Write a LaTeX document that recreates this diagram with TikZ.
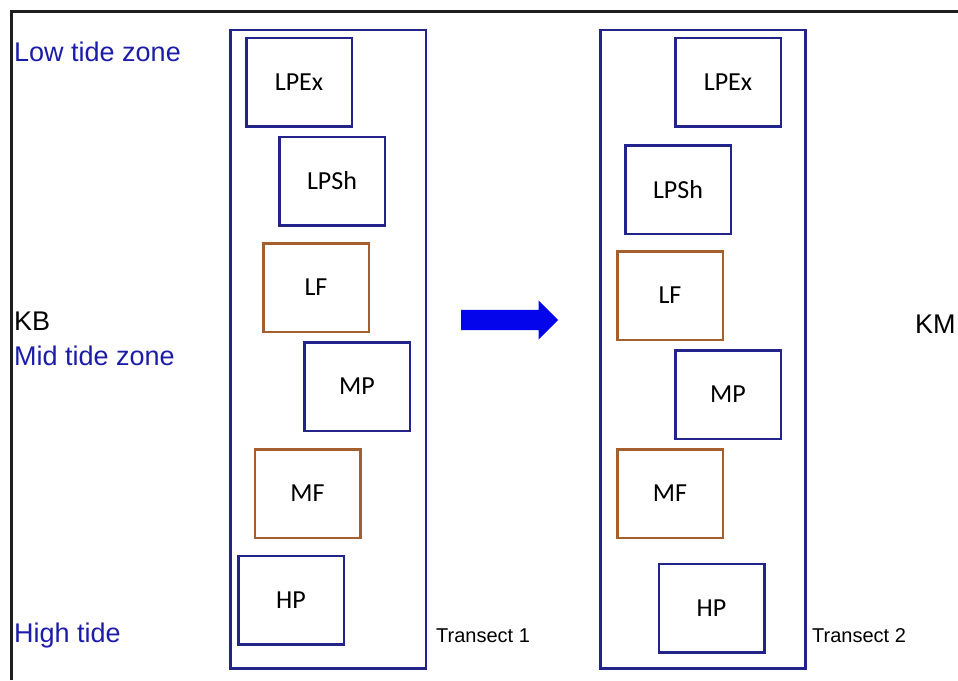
\documentclass[tikz,border=0pt]{standalone}
\usepackage{fontspec}
\setmainfont{Liberation Sans}
\newfontfamily\boxfont{Carlito}
\usetikzlibrary{shapes.arrows,positioning}
\definecolor{boxnavy}{RGB}{35,35,140}
\definecolor{boxbrown}{RGB}{165,95,45}
\definecolor{zoneblue}{RGB}{28,28,170}
\definecolor{arrowblue}{RGB}{5,5,235}
\definecolor{framegray}{RGB}{30,30,30}

\begin{document}
\begin{tikzpicture}[x=1pt,y=-1pt,
    habitat/.style={draw=boxnavy, line width=2.5pt, minimum width=105.5pt, minimum height=88.5pt,
        inner sep=0pt, font=\boxfont\fontsize{26}{30}\selectfont},
    flat/.style={habitat, draw=boxbrown},
    transectbox/.style={draw=boxnavy, line width=2.5pt, minimum height=638.5pt, inner sep=0pt},
    zone/.style={anchor=base west, inner sep=0pt, text=zoneblue, font=\fontsize{27}{31}\selectfont},
    site/.style={anchor=base west, inner sep=0pt, font=\fontsize{27}{31}\selectfont},
    tlabel/.style={anchor=base west, inner sep=0pt, font=\fontsize{20}{24}\selectfont}]
    \useasboundingbox (0,0) rectangle (958,680);
    \draw[framegray, line width=3pt] (11,680) -- (11,11) -- (958,11);

    % zone labels
    \node[zone] (low) at (14,61) {Low tide zone};
    \node[site] (kb) at (14,330) {KB};
    \node[zone] (mid) at (14,365) {Mid tide zone};
    \node[zone] (high) at (14,642) {High tide};
    \node[site] (km) at (915,333) {KM};

    % Transect 1
    \node[transectbox, minimum width=195.5pt] (trans1) at (328,349.3) {};
    \node[habitat] (lpex1) at (299,82) {LPEx};
    \node[habitat] (lpsh1) at (332,181) {LPSh};
    \node[flat] (lf1) at (316,287.5) {LF};
    \node[habitat] (mp1) at (357,386.5) {MP};
    \node[flat] (mf1) at (307.5,493.5) {MF};
    \node[habitat] (hp1) at (291,600) {HP};
    \node[tlabel] (tl1) at (436,642) {Transect 1};

    % Transect 2
    \node[transectbox, minimum width=205pt] (trans2) at (703,349.3) {};
    \node[habitat] (lpex2) at (728,82) {LPEx};
    \node[habitat] (lpsh2) at (678,189.5) {LPSh};
    \node[flat] (lf2) at (670,295.5) {LF};
    \node[habitat] (mp2) at (728,394.5) {MP};
    \node[flat] (mf2) at (670,493.5) {MF};
    \node[habitat] (hp2) at (711.5,608) {HP};
    \node[tlabel] (tl2) at (812,642) {Transect 2};

    % change between the transects
    \node[single arrow, fill=arrowblue, inner xsep=0pt, inner ysep=10pt, minimum height=97pt,
        single arrow head extend=9.5pt, anchor=tail] (shift) at (461,320) {};
\end{tikzpicture}
\end{document}
